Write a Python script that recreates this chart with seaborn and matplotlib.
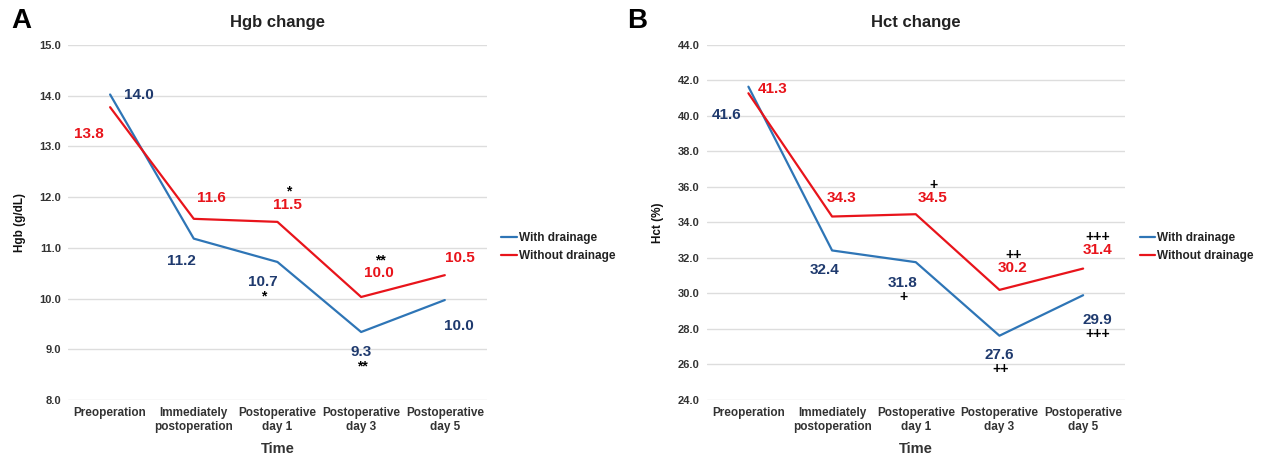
import matplotlib
matplotlib.use("Agg")
import matplotlib.pyplot as plt
import pandas as pd
import seaborn as sns

# ── data ──────────────────────────────────────────────────────────────
time_points = ["Preoperation", "Immediately\npostoperation", "Postoperative\nday 1",
               "Postoperative\nday 3", "Postoperative\nday 5"]
groups = ["With drainage", "Without drainage"]

hgb_with = [14.02, 11.18, 10.72, 9.34, 9.97]
hgb_without = [13.77, 11.57, 11.51, 10.03, 10.46]
hgb_marks_with = ["", "", "*", "**", ""]
hgb_marks_without = ["", "", "*", "**", ""]

hct_with = [41.64, 32.42, 31.76, 27.62, 29.9]
hct_without = [41.27, 34.33, 34.46, 30.2, 31.4]
hct_marks_with = ["", "", "+", "++", "+++"]
hct_marks_without = ["", "", "+", "++", "+++"]

hgb_ticks = [8.0, 9.0, 10.0, 11.0, 12.0, 13.0, 14.0, 15.0]
hct_ticks = [24.0, 26.0, 28.0, 30.0, 32.0, 34.0, 36.0, 38.0, 40.0, 42.0, 44.0]

# label offsets in pixels
hgb_off_with = [(29, -1), (-12, -22), (-15, -20), (0, -20), (14, -26)]
hgb_off_without = [(-21, -27), (18, 21), (10, 17), (18, 24), (15, 17)]
hct_off_with = [(-22, -28), (-8, -20), (-13, -21), (0, -19), (14, -25)]
hct_off_without = [(24, 4), (9, 19), (17, 16), (13, 22), (14, 19)]

BLUE = "#2E75B6"
RED = "#E8141B"
NAVY = "#1F3A6E"
LABEL_RED = "#E8141B"

sns.set_theme(style="whitegrid")
plt.rcParams["font.family"] = ["Liberation Sans", "DejaVu Sans"]
plt.rcParams["font.weight"] = "bold"


def make_frame(with_vals, without_vals):
    rows = []
    for i, t in enumerate(time_points):
        rows.append({"Time": i, "value": with_vals[i], "group": groups[0]})
        rows.append({"Time": i, "value": without_vals[i], "group": groups[1]})
    return pd.DataFrame(rows)


def draw_panel(ax, df, with_vals, without_vals, marks_w, marks_wo,
               off_w, off_wo, ticks, ylabel, title, letter, letter_x):
    sns.lineplot(data=df, x="Time", y="value", hue="group", palette=[BLUE, RED],
                 linewidth=1.6, ax=ax)
    ax.set_xlim(-0.5, 4.5)
    ax.set_ylim(ticks[0], ticks[-1])
    ax.set_yticks(ticks)
    ax.set_yticklabels([f"{t:.1f}" for t in ticks], fontsize=8, fontweight="bold",
                       color="#333333")
    ax.set_xticks(range(len(time_points)))
    ax.set_xticklabels(time_points, fontsize=8.5, fontweight="bold", color="#333333",
                       linespacing=1.25)
    ax.grid(axis="x", visible=False)
    ax.grid(axis="y", color="#DDDDDD", linewidth=1)
    for s in ax.spines.values():
        s.set_visible(False)
    ax.tick_params(axis="both", length=0, pad=5)
    ax.set_xlabel("Time", fontsize=10.5, fontweight="bold", color="#333333", labelpad=6)
    ax.set_ylabel(ylabel, fontsize=8.5, fontweight="bold", color="#111111", labelpad=10)
    ax.set_title(title, fontsize=12, fontweight="bold", color="#222222", pad=13)
    ax.text(letter_x, 1.03, letter, transform=ax.transAxes, fontsize=20,
            fontweight="bold", color="black", ha="left", va="bottom")

    for vals, marks, offs, col in [(with_vals, marks_w, off_w, NAVY),
                                   (without_vals, marks_wo, off_wo, LABEL_RED)]:
        for i, v in enumerate(vals):
            dx, dy = offs[i]
            ax.annotate(f"{v:.1f}", (i, v), xytext=(dx, dy), textcoords="offset pixels",
                        ha="center", va="center", fontsize=11, fontweight="bold",
                        color=col)
            if marks[i]:
                my = dy - 14 if dy < 0 else dy + 13
                ax.annotate(marks[i], (i, v), xytext=(dx + 1, my),
                            textcoords="offset pixels", ha="center", va="center",
                            fontsize=10, fontweight="bold", color="black")

    leg = ax.legend(loc="center left", bbox_to_anchor=(1.01, 0.43), frameon=False,
                    fontsize=8.5, handlelength=1.3, handletextpad=0.2,
                    labelspacing=0.5)
    for txt in leg.get_texts():
        txt.set_fontweight("bold")
        txt.set_color("#222222")


fig = plt.figure(figsize=(12.64, 4.59), dpi=100)
ax_a = fig.add_axes([0.054, 0.1285, 0.331, 0.774])
ax_b = fig.add_axes([0.559, 0.1285, 0.331, 0.774])

draw_panel(ax_a, make_frame(hgb_with, hgb_without), hgb_with, hgb_without,
           hgb_marks_with, hgb_marks_without, hgb_off_with, hgb_off_without,
           hgb_ticks, "Hgb (g/dL)", "Hgb change", "A", -0.135)
draw_panel(ax_b, make_frame(hct_with, hct_without), hct_with, hct_without,
           hct_marks_with, hct_marks_without, hct_off_with, hct_off_without,
           hct_ticks, "Hct (%)", "Hct change", "B", -0.19)

fig.savefig("out.png", dpi=100)
